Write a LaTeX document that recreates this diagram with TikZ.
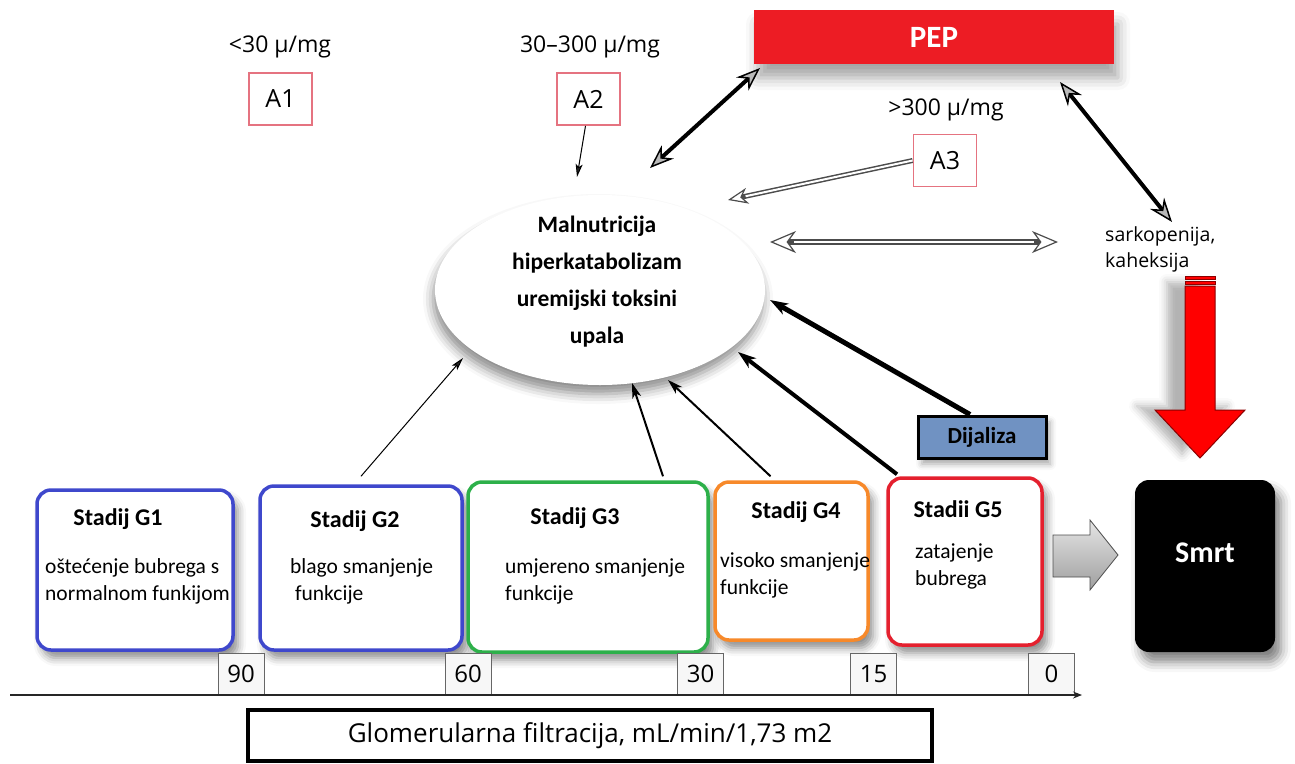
\documentclass[tikz,border=0pt]{standalone}
\usepackage{fontspec}
\setmainfont{Carlito}
\newfontfamily\segoe{Open Sans}
\usetikzlibrary{arrows.meta,shadows,shadows.blur,shapes.geometric}
\definecolor{stblue}{HTML}{3F48CC}
\definecolor{stgreen}{HTML}{2DB04A}
\definecolor{storange}{HTML}{F7892A}
\definecolor{stred}{HTML}{E4202E}
\definecolor{pepred}{HTML}{ED1C24}
\definecolor{boxpink}{HTML}{E57380}
\definecolor{dialblue}{HTML}{7092C2}
\definecolor{darkred}{HTML}{8B0000}
\begin{document}
\begin{tikzpicture}[x=1pt,y=-1pt,
  txt/.style={font=\fontsize{21.5}{27}\selectfont, inner sep=0pt},
  ttl/.style={font=\bfseries\fontsize{24}{28}\selectfont, inner sep=0pt},
  lbl/.style={font=\segoe\fontsize{23}{27}\selectfont},
  abox/.style={draw=boxpink, line width=1.8pt, minimum width=63pt, minimum height=52pt, fill=white, font=\segoe\fontsize{25}{28}\selectfont, inner sep=0pt},
  stage/.style={draw=#1, line width=3.5pt, rounded corners=14pt, fill=white,
     blur shadow={shadow xshift=5pt, shadow yshift=-8pt, shadow blur radius=8pt, shadow opacity=45}},
  tick/.style={draw=gray!80!black, line width=1pt, fill=gray!6, minimum width=46pt, minimum height=42pt, inner sep=0pt, font=\segoe\fontsize{24}{26}\selectfont},
  thinarr/.style={line width=1pt, -{Stealth[length=13pt,width=7pt,inset=3pt]}},
  medarr/.style={line width=2pt, -{Stealth[length=15pt,width=9pt,inset=4pt]}},
  thickarr/.style={line width=4pt, -{Stealth[length=18pt,width=12pt,inset=5pt]}},
  bigdbl/.style={line width=4pt, {Stealth[length=24pt,width=18pt,inset=8pt,fill=gray!55,line width=1.5pt]}-{Stealth[length=24pt,width=18pt,inset=8pt,fill=gray!55,line width=1.5pt]}},
]
\useasboundingbox (0,0) rectangle (1295,763);

% ---------- albuminuria labels ----------
\node[lbl] (l1) at (280,47) {<30 μ/mg};
\node[lbl] (l2) at (590,47) {30–300 μ/mg};
\node[lbl] (l3) at (946,110) {>300 μ/mg};
\node[abox] (a1) at (280.5,99) {A1};
\node[abox] (a2) at (588.5,99) {A2};
\node[abox] (a3) at (945,160.5) {A3};

% ---------- PEP ----------
\node[fill=pepred, minimum width=360pt, minimum height=54pt, font=\bfseries\fontsize{31}{34}\selectfont, text=white,
   blur shadow={shadow xshift=4pt, shadow yshift=-14pt, shadow blur radius=12pt, shadow opacity=35}] (pep) at (934,37) {PEP};

% ---------- central ellipse ----------
\node[ellipse, fill=white, minimum width=330pt, minimum height=190pt,
   blur shadow={shadow xshift=-2pt, shadow yshift=-9pt, shadow blur radius=10pt, shadow opacity=45}] (ell) at (600,290) {};
\node[font=\bfseries\fontsize{23.5}{37}\selectfont, align=center, inner sep=0pt] (elltxt) at (597,281.5)
  {Malnutricija\\hiperkatabolizam\\uremijski toksini\\upala};

% ---------- sarkopenija ----------
\node[align=left, anchor=west, inner sep=0pt, font=\segoe\fontsize{19.5}{26}\selectfont] (sark) at (1105,249) {sarkopenija,\\kaheksija};

% ---------- red down arrow ----------
\draw[darkred, line width=1pt, fill=red,
   blur shadow={shadow xshift=-18pt, shadow yshift=4pt, shadow blur radius=8pt, shadow opacity=30}]
   (1185,286) -- (1215,286) -- (1215,410) -- (1245,410) -- (1200,458) -- (1155,410) -- (1185,410) -- cycle;
\draw[darkred, line width=1pt, fill=red] (1185,276.5) rectangle (1215,279.5);
\draw[darkred, line width=1pt, fill=red] (1185,281) rectangle (1215,284.5);

% ---------- stages ----------
\node[stage=stblue, minimum width=196pt, minimum height=160pt] (g1) at (135,570) {};
\node[stage=stblue, minimum width=202pt, minimum height=164pt] (g2) at (361,568) {};
\node[stage=stgreen, minimum width=240pt, minimum height=170pt] (g3) at (588,567) {};
\node[stage=storange, minimum width=153pt, minimum height=158pt] (g4) at (791.5,561) {};
\node[stage=stred, minimum width=154pt, minimum height=167pt] (g5) at (965,561.5) {};

\node[ttl] (g1t) at (118,519) {Stadij G1};
\node[txt, align=left, anchor=west] (g1b) at (45,581.5) {oštećenje bubrega s\\normalnom funkijom};
\node[ttl] (g2t) at (355,521) {Stadij G2};
\node[txt, align=left, anchor=west] (g2b) at (290,581.5) {blago smanjenje\\\ funkcije};
\node[ttl] (g3t) at (575,518) {Stadij G3};
\node[txt, align=left, anchor=west] (g3b) at (505,581.5) {umjereno smanjenje\\funkcije};
\node[ttl] (g4t) at (796,512) {Stadij G4};
\node[txt, align=left, anchor=west] (g4b) at (720,575.5) {visoko smanjenje\\funkcije};
\node[ttl] (g5t) at (958,509) {Stadii G5};
\node[txt, align=left, anchor=west] (g5b) at (915,566.5) {zatajenje\\bubrega};

% ---------- Dijaliza ----------
\node[fill=dialblue, draw=black, line width=3pt, minimum width=128pt, minimum height=42pt, inner sep=0pt,
   font=\bfseries\fontsize{23}{25}\selectfont,
   blur shadow={shadow xshift=4pt, shadow yshift=-6pt, shadow blur radius=6pt, shadow opacity=35}] (dial) at (982,437) {Dijaliza};

% ---------- Smrt ----------
\node[fill=black, rounded corners=14pt, minimum width=140pt, minimum height=172pt,
   blur shadow={shadow xshift=6pt, shadow yshift=-10pt, shadow blur radius=10pt, shadow opacity=50}] (smrt) at (1205,566) {};
\node[text=white, font=\bfseries\fontsize{30}{34}\selectfont] (smrtt) at (1205,553) {Smrt};

% ---------- gray block arrow ----------
\shade[top color=gray!20, bottom color=gray!75, draw=gray!60!black, line width=0.8pt]
  (1053,535) -- (1090,535) -- (1090,520) -- (1118,555) -- (1090,590) -- (1090,577) -- (1053,577) -- cycle;

% ---------- axis ----------
\coordinate (axL) at (10,695);
\coordinate (axR) at (1082,695);
\node[tick] (t90) at (241,674) {90};
\node[tick] (t60) at (468,674) {60};
\node[tick] (t30) at (700.5,674) {30};
\node[tick] (t15) at (873.5,674) {15};
\node[tick] (t0) at (1051.5,674) {0};
\draw[line width=1.2pt, gray!30!black, -{Stealth[length=9pt,width=7pt]}] (axL) -- (axR);

\node[draw=black, line width=4pt, fill=white, minimum width=684pt, minimum height=51pt,
   font=\segoe\fontsize{26}{30}\selectfont] (gfr) at (590,735.5) {Glomerularna filtracija, mL/min/1,73 m2};

% ---------- connectors ----------
\coordinate (eA2) at (577,177);
\coordinate (ePEP) at (650,168);
\coordinate (eA3) at (728,200);
\coordinate (eS) at (770,242);
\coordinate (eG2) at (463,358);
\coordinate (eG3) at (632,383);
\coordinate (eG4) at (668,380);
\coordinate (eG5) at (738,352);
\coordinate (eD) at (770,300);
\coordinate (sS) at (1058,242);
\coordinate (sP) at (1172,222);
\coordinate (pL) at (760,68);
\coordinate (pR) at (1060,82);

\draw[thinarr] (a2.south) ++(-3,0) -- (eA2);
\draw[bigdbl] (pL) -- (ePEP);
\draw[bigdbl] (pR) -- (sP);

% hollow double-line arrows
\draw[line width=5pt, black!70, -{Stealth[length=20pt,width=16pt,inset=6pt,fill=white,line width=1.2pt]}] (a3.west) -- (eA3);
\draw[line width=2pt, white, shorten >=18pt] (a3.west) -- (eA3);
\draw[line width=6pt, black!70, {Stealth[length=26pt,width=22pt,inset=8pt,fill=white,line width=1.2pt]}-{Stealth[length=26pt,width=22pt,inset=8pt,fill=white,line width=1.2pt]}] (eS) -- (sS);
\draw[line width=2.5pt, white, shorten >=24pt, shorten <=24pt] (eS) -- (sS);

\draw[thinarr] ([yshift=8pt]g2.north) -- (eG2);
\draw[medarr] ([xshift=75pt,yshift=4pt]g3.north) -- (eG3);
\draw[medarr] ([xshift=-21pt,yshift=4pt]g4.north) -- (eG4);
\draw[thickarr] ([xshift=-68pt,yshift=2pt]g5.north) -- (eG5);
\draw[thickarr, line width=5pt] ([xshift=-12pt]dial.north) -- (eD);

\end{tikzpicture}
\end{document}
